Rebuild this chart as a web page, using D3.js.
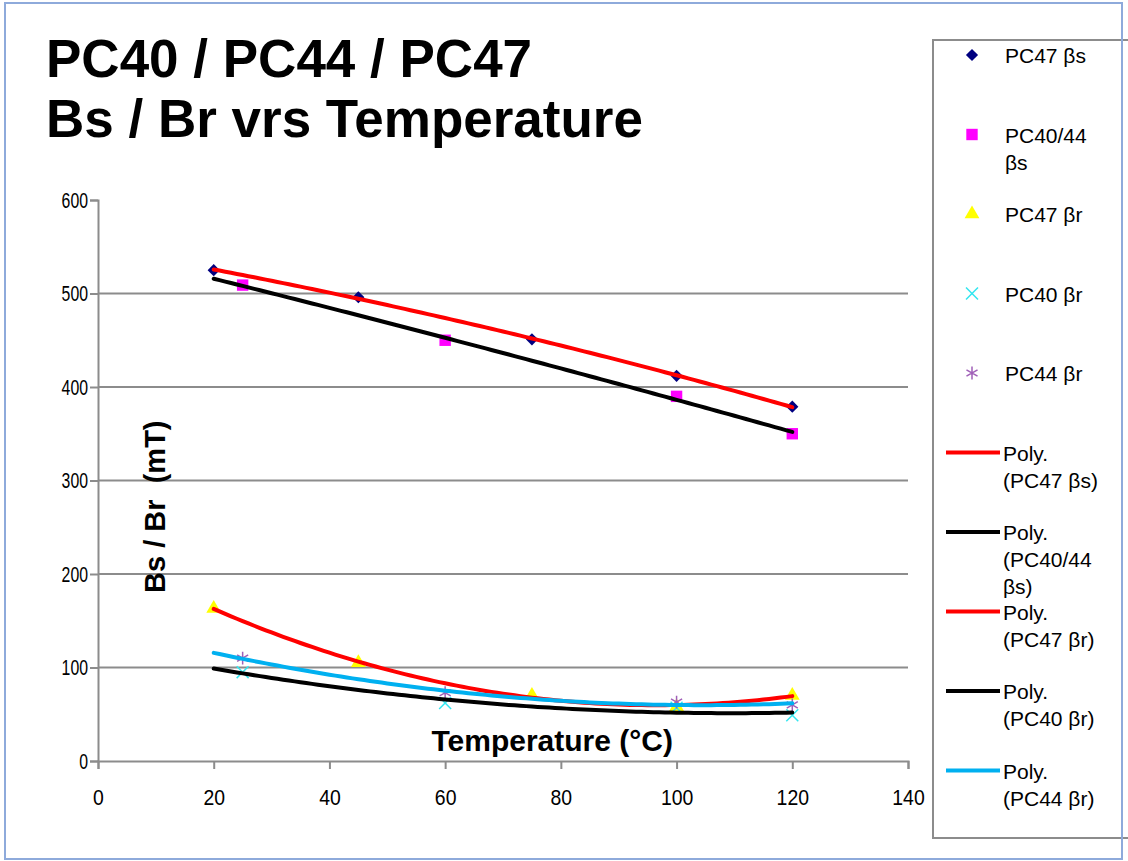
<!DOCTYPE html>
<html>
<head>
<meta charset="utf-8">
<script src="https://cdn.jsdelivr.net/npm/d3@7"></script>
<style>
  body { margin: 0; background: #fff; }
  text { font-family: "Liberation Sans", Arial, sans-serif; }
</style>
</head>
<body>
<svg id="chart" width="1128" height="861"></svg>
<script>
// data
const titleLines = ["PC40 / PC44 / PC47", "Bs / Br vrs Temperature"];
const xTicks = [0, 20, 40, 60, 80, 100, 120, 140];
const yTicks = [0, 100, 200, 300, 400, 500, 600];
const temps47 = [20, 45, 75, 100, 120];
const bs47 = [525, 496, 451, 412, 379];
const br47 = [163, 105, 70, 58, 70];
const temps4044 = [25, 60, 100, 120];
const bs4044 = [509, 450, 390, 350];
const br40 = [95, 62, 57, 49];
const br44 = [110, 73, 63, 60];
const trendRange = [20, 120];

const markerSeries = [
  { name: ["PC47 βs"], xs: temps47, ys: bs47, shape: "diamond", color: "#000080" },
  { name: ["PC40/44", "βs"], xs: temps4044, ys: bs4044, shape: "square", color: "#ff00ff" },
  { name: ["PC47 βr"], xs: temps47, ys: br47, shape: "triangle", color: "#ffff00" },
  { name: ["PC40 βr"], xs: temps4044, ys: br40, shape: "cross", color: "#33e6f0" },
  { name: ["PC44 βr"], xs: temps4044, ys: br44, shape: "star", color: "#a060b8" }
];
const trendSeries = [
  { name: ["Poly.", "(PC47 βs)"], src: 0, color: "#ff0000" },
  { name: ["Poly.", "(PC40/44", "βs)"], src: 1, color: "#000000" },
  { name: ["Poly.", "(PC47 βr)"], src: 2, color: "#ff0000" },
  { name: ["Poly.", "(PC40 βr)"], src: 3, color: "#000000" },
  { name: ["Poly.", "(PC44 βr)"], src: 4, color: "#00b0f0" }
];

// least squares 2nd order fit, like the spreadsheet trendline
function polyFit(xs, ys) {
  const s = [0, 0, 0, 0, 0], t = [0, 0, 0];
  xs.forEach((x, i) => {
    for (let k = 0; k < 5; k++) s[k] += Math.pow(x, k);
    for (let k = 0; k < 3; k++) t[k] += ys[i] * Math.pow(x, k);
  });
  const m = [[s[0], s[1], s[2], t[0]], [s[1], s[2], s[3], t[1]], [s[2], s[3], s[4], t[2]]];
  for (let c = 0; c < 3; c++) {
    for (let r = c + 1; r < 3; r++) {
      const f = m[r][c] / m[c][c];
      for (let k = c; k < 4; k++) m[r][k] -= f * m[c][k];
    }
  }
  const a = [0, 0, 0];
  for (let r = 2; r >= 0; r--) {
    let v = m[r][3];
    for (let k = r + 1; k < 3; k++) v -= m[r][k] * a[k];
    a[r] = v / m[r][r];
  }
  return x => a[0] + a[1] * x + a[2] * x * x;
}

const svg = d3.select("#chart");
const x = d3.scaleLinear().domain([0, 140]).range([98, 908]);
const y = d3.scaleLinear().domain([0, 600]).range([761, 200]);

// outer frame
svg.append("rect")
  .attr("x", 5).attr("y", 3).attr("width", 1117).attr("height", 856)
  .attr("fill", "none").attr("stroke", "#8eaadb").attr("stroke-width", 2);

// title
svg.append("g").selectAll("text")
  .data(titleLines)
  .join("text")
  .attr("x", 46)
  .attr("y", (d, i) => 77 + i * 60)
  .attr("font-size", 53)
  .attr("font-weight", "bold")
  .text(d => d);

// gridlines
svg.append("g").selectAll("line")
  .data(yTicks.filter(d => d > 0 && d < 600))
  .join("line")
  .attr("x1", x(0)).attr("x2", x(140))
  .attr("y1", d => y(d)).attr("y2", d => y(d))
  .attr("stroke", "#8c8c8c").attr("stroke-width", 2);

const yAxis = svg.append("g")
  .attr("transform", `translate(${x(0)},0)`)
  .call(d3.axisLeft(y).tickValues(yTicks).tickSize(8).tickPadding(2));
const xAxis = svg.append("g")
  .attr("transform", `translate(0,${y(0)})`)
  .call(d3.axisBottom(x).tickValues(xTicks).tickSize(8).tickPadding(20));

[yAxis, xAxis].forEach((g, i) => {
  g.select(".domain").attr("stroke", "#8c8c8c").attr("stroke-width", 2);
  g.selectAll(".tick line").attr("stroke", "#8c8c8c").attr("stroke-width", 2);
  g.selectAll(".tick text")
    .attr("fill", "#000")
    .attr("font-size", 22)
    .attr("font-family", "Liberation Sans, Arial, sans-serif")
    .attr("lengthAdjust", "spacingAndGlyphs")
    .attr("textLength", d => String(d).length * (i === 0 ? 8.8 : 10.8));
});

// axis titles
svg.append("text")
  .attr("transform", `translate(165,${y(272)}) rotate(-90)`)
  .attr("text-anchor", "middle")
  .attr("font-size", 29)
  .attr("font-weight", "bold")
  .attr("xml:space", "preserve")
  .text("Bs / Br  (mT)");

svg.append("text")
  .attr("x", x(78.5))
  .attr("y", 751)
  .attr("text-anchor", "middle")
  .attr("font-size", 30)
  .attr("font-weight", "bold")
  .text("Temperature (°C)");

const symbolFor = {
  diamond: d3.symbol().type(d3.symbolDiamond2).size(95),
  square: d3.symbol().type(d3.symbolSquare).size(130),
  triangle: d3.symbol().type(d3.symbolTriangle).size(95),
  cross: d3.symbol().type(d3.symbolX).size(95),
  star: d3.symbol().type(d3.symbolAsterisk).size(115)
};
const isStroked = s => s === "cross" || s === "star";

function drawMarker(g, shape, color) {
  g.append("path")
    .attr("d", symbolFor[shape]())
    .attr("fill", isStroked(shape) ? "none" : color)
    .attr("stroke", isStroked(shape) ? color : "none")
    .attr("stroke-width", 1.5);
}

// markers
markerSeries.forEach(s => {
  s.xs.forEach((t, i) => {
    const g = svg.append("g").attr("transform", `translate(${x(t)},${y(s.ys[i])})`);
    drawMarker(g, s.shape, s.color);
  });
});

// trendlines on top
const line = d3.line().x(d => x(d[0])).y(d => y(d[1]));
trendSeries.forEach(tr => {
  const src = markerSeries[tr.src];
  const f = polyFit(src.xs, src.ys);
  const pts = d3.range(trendRange[0], trendRange[1] + 0.5, 1).map(t => [t, f(t)]);
  svg.append("path")
    .datum(pts)
    .attr("d", line)
    .attr("fill", "none")
    .attr("stroke", tr.color)
    .attr("stroke-width", 4)
    .attr("stroke-linecap", "round");
});

// legend
const legend = svg.append("g");
legend.append("rect")
  .attr("x", 933).attr("y", 40).attr("width", 210).attr("height", 798)
  .attr("fill", "#fff").attr("stroke", "#8c8c8c").attr("stroke-width", 2);

const LEGEND_TOP = 55;
const LEGEND_STEP = 79.5;
const LINE_H = 27;

markerSeries.forEach((s, i) => {
  const cy = LEGEND_TOP + i * LEGEND_STEP;
  const g = legend.append("g").attr("transform", `translate(972,${cy})`);
  drawMarker(g, s.shape, s.color);
  legend.append("g").selectAll("text")
    .data(s.name)
    .join("text")
    .attr("x", 1005)
    .attr("y", (d, k) => cy + 8 + k * LINE_H)
    .attr("font-size", 21)
    .text(d => d);
});

trendSeries.forEach((tr, j) => {
  const cy = LEGEND_TOP + (j + markerSeries.length) * LEGEND_STEP;
  legend.append("line")
    .attr("x1", 946).attr("x2", 1000)
    .attr("y1", cy).attr("y2", cy)
    .attr("stroke", tr.color).attr("stroke-width", 4);
  legend.append("g").selectAll("text")
    .data(tr.name)
    .join("text")
    .attr("x", 1003)
    .attr("y", (d, k) => cy + 8 + k * LINE_H)
    .attr("font-size", 21)
    .text(d => d);
});

// frame's right edge shows over the legend box
svg.append("line")
  .attr("x1", 1122).attr("x2", 1122).attr("y1", 3).attr("y2", 859)
  .attr("stroke", "#8eaadb").attr("stroke-width", 2);
</script>
</body>
</html>
